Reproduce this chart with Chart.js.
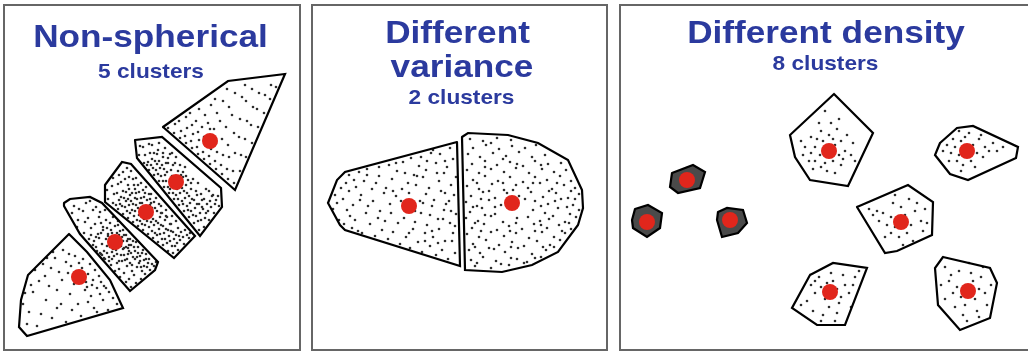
<!DOCTYPE html>
<html>
<head>
<meta charset="utf-8">
<script src="https://cdn.jsdelivr.net/npm/chart.js@4.4.1/dist/chart.umd.min.js"></script>
<style>
  html, body { margin: 0; padding: 0; background: #fff; }
  body { position: relative; width: 1028px; height: 351px; overflow: hidden; }
  canvas { position: absolute; top: 0; }
  .frame { position: absolute; top: 4px; height: 347px; box-sizing: border-box; border: 2px solid #666; z-index: 2; }
  .t { position: absolute; text-align: center; white-space: nowrap; color: #2b3a9e; z-index: 3;
       font-family: "Liberation Sans", Arial, sans-serif; font-weight: bold; }
  .big { font-size: 32px; line-height: 32px; transform: scaleX(1.1); }
  .small { font-size: 21px; line-height: 21px; transform: scaleX(1.08); }
</style>
</head>
<body>
<canvas id="nonSpherical" width="305" height="351" style="left:0"></canvas>
<canvas id="variance" width="310" height="351" style="left:305px"></canvas>
<canvas id="density" width="413" height="351" style="left:615px"></canvas>

<div class="frame" style="left:3px;width:298px"></div>
<div class="frame" style="left:311px;width:297px"></div>
<div class="frame" style="left:619px;width:420px"></div>

<div class="t big" style="left:0;width:301px;top:20px">Non-spherical</div>
<div class="t small" style="left:0;width:302px;top:60px">5 clusters</div>
<div class="t big" style="left:357px;width:201px;top:16px">Different</div>
<div class="t big" style="left:362px;width:200px;top:50px">variance</div>
<div class="t small" style="left:361px;width:201px;top:86px">2 clusters</div>
<div class="t big" style="left:676px;width:300px;top:16px">Different density</div>
<div class="t small" style="left:725px;width:201px;top:52px">8 clusters</div>

<script>
// ---- Non-spherical: 5 clusters along one long diagonal cloud ----
const nsCenters = [[79, 74], [115, 109], [146, 139], [176, 169], [210, 210]];
const nsHulls = [
  [[69,117],[87,99],[110,71],[123,43],[27,15],[19,24],[21,51],[28,76]],
  [[64,148],[70,152],[90,154],[102,148],[158,89],[155,81],[130,60],[80,117],[64,145]],
  [[105,166],[122,189],[131,187],[195,115],[174,93],[105,149]],
  [[135,211],[162,214],[221,163],[222,144],[200,115],[137,193]],
  [[163,224],[228,270],[285,277],[235,161]]
];
const nsPts1 = [[90,87],[83,92],[95,81],[79,88],[88,77],[99,75],[75,95],[82,83],[93,71],[101,69],[86,69],[71,85],[77,76],[104,65],[97,63],[109,59],[113,53],[69,97],[63,101],[66,89],[74,67],[59,79],[55,93],[51,83],[62,71],[85,61],[91,55],[103,51],[70,57],[57,61],[45,75],[43,87],[49,65],[39,70],[35,81],[33,59],[46,51],[61,47],[78,47],[94,43],[108,41],[117,47],[29,39],[41,37],[27,27],[52,33],[66,29],[37,25],[23,47],[81,35],[97,39],[57,43],[72,41],[88,49],[100,57],[106,63],[53,99],[47,93],[31,66],[25,58],[87,64],[80,71],[68,78],[92,66]];
const nsPts2 = [[72,138],[74,145],[78,131],[79,142],[77,124],[84,118],[85,129],[83,140],[86,148],[89,112],[91,123],[88,133],[93,141],[90,150],[96,104],[94,110],[98,117],[95,127],[99,134],[96,144],[100,98],[102,107],[99,113],[103,121],[101,128],[100,139],[105,92],[104,100],[107,105],[106,112],[108,117],[103,124],[106,131],[105,141],[111,86],[109,94],[112,99],[110,104],[113,110],[108,115],[111,121],[110,128],[113,134],[115,80],[117,88],[114,95],[116,101],[118,106],[114,113],[117,118],[115,125],[118,130],[120,74],[119,82],[122,90],[121,96],[123,102],[119,108],[122,114],[120,120],[118,126],[126,69],[124,78],[127,85],[125,91],[128,97],[124,103],[127,110],[126,116],[123,121],[131,64],[129,72],[132,80],[130,88],[133,94],[129,100],[131,106],[130,112],[136,68],[134,76],[137,84],[135,92],[138,98],[134,104],[136,109],[141,72],[142,80],[139,88],[140,95],[143,101],[145,77],[147,84],[144,91],[146,97],[150,81],[152,87],[149,92],[154,85],[156,89],
  [97,100],[101,97],[102,96],[104,93],[107,98],[109,90],[111,108],[113,102],[112,92],[116,110],[117,97],[119,90],[121,105],[123,110],[124,96],[126,104],[128,112],[127,92],[129,106],[131,98],[133,110],[132,86],[135,100],[137,94],[138,104],[140,90],[142,98],[144,85],[141,84],[146,92],[148,88],[93,106],[91,116],[96,114],[101,118],[107,123],[112,118],[119,116],[124,116],[128,103]];
const nsPts3 = [[108,152],[107,161],[113,148],[114,157],[112,165],[113,173],[118,142],[119,151],[117,158],[118,167],[119,176],[123,137],[122,145],[124,153],[123,160],[121,169],[123,179],[128,133],[127,140],[129,146],[128,152],[126,159],[128,166],[129,174],[127,183],[133,129],[134,135],[132,141],[133,147],[135,153],[132,158],[134,166],[133,172],[131,180],[138,125],[137,131],[139,136],[138,143],[140,148],[137,152],[139,159],[138,166],[136,173],[143,121],[142,127],[144,132],[142,148],[144,154],[143,161],[141,168],[148,117],[149,124],[147,130],[150,146],[147,151],[149,157],[146,164],[153,113],[152,120],[154,126],[153,132],[152,143],[154,149],[151,157],[158,109],[157,116],[159,122],[158,128],[160,134],[157,140],[159,147],[156,153],[163,106],[162,112],[164,118],[163,125],[165,131],[162,138],[161,145],[168,100],[167,108],[169,115],[168,121],[170,127],[167,134],[166,141],[173,98],[172,105],[174,112],[173,119],[171,127],[172,135],[178,101],[177,108],[179,115],[178,123],[176,130],[184,107],[183,114],[185,121],[189,113],[190,118],
  [116,146],[120,147],[121,154],[125,144],[126,150],[130,138],[131,150],[130,156],[135,140],[136,146],[136,158],[140,130],[141,138],[141,153],[145,126],[146,134],[151,129],[152,136],[151,148],[155,118],[156,130],[155,143],[160,117],[161,126],[161,138],[165,112],[166,122],[166,135],[170,110],[171,120],[175,105],[176,116],[180,111],[181,119],[187,116],[125,172],[129,162],[135,162],[145,158],[150,152]];
const nsPts4 = [[139,196],[140,205],[144,188],[145,196],[143,204],[149,181],[148,189],[150,198],[149,207],[154,176],[153,183],[155,190],[154,198],[152,206],[159,170],[158,177],[160,183],[159,190],[157,197],[159,208],[164,164],[163,170],[165,176],[164,182],[166,188],[163,194],[165,203],[169,158],[168,164],[171,181],[168,188],[170,197],[174,152],[173,158],[175,188],[172,198],[179,146],[178,152],[180,158],[181,176],[180,186],[184,140],[183,147],[185,153],[184,160],[186,166],[183,174],[185,184],[189,134],[188,141],[190,148],[189,155],[191,162],[188,171],[194,128],[193,136],[195,143],[194,151],[196,160],[193,172],[199,121],[198,130],[200,138],[199,147],[201,157],[198,168],[204,124],[205,133],[203,142],[204,152],[206,162],[209,131],[208,140],[210,150],[209,160],[214,138],[215,147],[213,156],[219,145],[218,155],
  [147,186],[151,186],[152,192],[156,181],[157,187],[161,175],[162,186],[166,170],[167,179],[170,162],[172,175],[173,186],[176,156],[177,162],[178,180],[182,150],[182,163],[183,179],[187,145],[187,158],[191,140],[192,152],[191,168],[196,135],[197,147],[197,156],[201,131],[202,144],[202,151],[206,138],[207,147],[211,144],[212,155],[216,151],[158,201],[163,198],[168,193],[176,194],[180,168],[186,175]];
const nsPts5 = [[168,223],[174,218],[175,227],[180,213],[181,220],[179,230],[186,208],[185,215],[187,223],[186,234],[192,203],[191,210],[193,217],[192,226],[190,238],[198,197],[197,204],[199,211],[198,219],[196,230],[199,242],[204,192],[203,199],[205,206],[204,214],[202,224],[205,236],[210,187],[209,195],[211,202],[210,222],[208,228],[211,246],[216,182],[215,190],[217,199],[216,208],[214,222],[217,238],[215,252],[222,177],[221,186],[223,196],[222,212],[220,230],[223,250],[228,172],[227,182],[229,194],[228,206],[226,224],[229,244],[227,262],[234,168],[233,180],[235,198],[234,218],[232,236],[235,258],[240,180],[241,196],[239,214],[240,232],[242,254],[246,194],[245,212],[247,230],[246,250],[245,266],[252,208],[251,226],[253,244],[252,262],[258,224],[257,242],[259,258],[264,238],[265,256],[270,252],[271,266],[276,264]];

// ---- Different variance: 2 clusters, wide one on the left ----
const dvCenters = [[104, 145], [207, 148]];
const dvHulls = [
  [[152,209],[40,179],[32,171],[23,148],[35,126],[40,121],[155,85]],
  [[157,214],[163,218],[203,216],[233,208],[263,191],[277,161],[278,143],[273,126],[253,99],[227,86],[197,79],[160,81]]
];
const dvPts1 = [[28,142],[30,156],[34,131],[32,148],[36,163],[39,127],[42,141],[38,152],[41,168],[44,176],[47,123],[45,135],[48,146],[44,160],[49,171],[53,120],[50,131],[55,151],[51,164],[54,179],[57,118],[61,138],[56,156],[59,170],[62,182],[65,127],[63,145],[67,162],[62,176],[70,115],[73,133],[68,150],[71,168],[74,184],[77,121],[75,140],[79,158],[74,175],[83,112],[80,130],[85,147],[81,163],[84,186],[88,119],[86,138],[91,155],[87,172],[91,188],[95,107],[93,128],[97,162],[92,180],[101,114],[99,133],[103,168],[98,189],[105,103],[108,122],[104,158],[109,176],[106,193],[113,109],[110,129],[115,150],[111,166],[114,185],[117,99],[120,118],[116,138],[121,157],[118,174],[116,194],[125,105],[122,126],[127,145],[124,163],[121,181],[126,198],[131,96],[128,114],[133,132],[129,151],[134,170],[131,188],[128,201],[137,101],[134,122],[139,141],[136,160],[139,178],[135,197],[143,92],[140,110],[145,128],[141,147],[146,166],[142,184],[145,203],[150,98],[148,118],[151,137],[149,156],[151,174],[148,192],
  [120,110],[127,120],[133,108],[138,132],[144,150],[147,110],[140,158],[125,136],[118,148],[132,178],[110,140],[104,118],[112,175],[96,150],[88,160],[140,190],[146,140],[150,125],[122,190],[100,178]];
const dvPts2 = [[170,85],[186,83],[204,86],[219,88],[166,91],[178,94],[191,90],[206,93],[222,89],[236,94],[164,101],[175,98],[189,102],[200,99],[213,103],[227,97],[241,101],[249,104],[168,107],[181,111],[194,106],[207,109],[219,105],[232,110],[245,106],[255,111],[162,117],[174,114],[186,119],[199,115],[211,118],[224,113],[237,119],[249,114],[260,118],[167,123],[179,127],[192,121],[204,125],[217,122],[229,127],[242,123],[254,126],[266,122],[161,133],[173,130],[186,135],[198,129],[223,134],[235,130],[248,135],[260,129],[271,134],[165,139],[177,143],[190,137],[228,141],[240,138],[253,143],[265,137],[274,141],[161,149],[172,145],[184,151],[196,146],[230,150],[243,147],[256,152],[268,146],[166,155],[178,159],[190,153],[202,158],[214,155],[226,159],[238,154],[251,158],[263,153],[274,157],[162,165],[174,162],[187,167],[199,161],[211,166],[223,163],[235,168],[247,162],[259,166],[270,163],[168,171],[180,175],[193,170],[205,174],[218,169],[230,174],[242,171],[255,175],[266,170],[162,181],[174,178],[186,182],[199,179],[211,183],[224,178],[237,182],[249,179],[261,181],[167,187],[180,190],[192,186],[205,189],[218,185],[230,190],[243,187],[256,188],[163,197],[175,194],[188,198],[201,195],[214,199],[227,194],[240,196],[168,203],[181,206],[194,202],[207,205],[220,203],[231,206],[165,212],[178,210],[192,213],[206,211],
  [172,88],[196,87],[212,92],[230,93],[170,104],[184,103],[206,104],[238,104],[176,120],[205,120],[230,120],[257,120],[170,128],[211,128],[236,126],[264,128],[180,136],[212,133],[244,132],[168,144],[190,144],[236,145],[262,144],[176,152],[220,152],[250,150],[270,152],[184,160],[208,161],[244,160],[266,160],[172,168],[198,168],[228,168],[252,168],[180,184],[212,187],[236,186],[198,192],[186,208]];

// ---- Different density: 8 clusters, three of them very tight ----
const ddCenters = [[214,200],[352,200],[72,171],[32,129],[115,131],[286,129],[215,59],[353,60]];
const ddHulls = [
  [[219,257],[258,218],[233,165],[195,171],[180,194],[175,216]],
  [[325,208],[342,223],[358,225],[403,204],[401,193],[353,171],[335,177],[320,196]],
  [[57,178],[78,186],[90,179],[85,163],[63,158],[55,164]],
  [[20,142],[33,146],[47,138],[45,123],[32,114],[18,123],[17,131]],
  [[103,139],[112,143],[128,141],[132,128],[123,118],[107,114],[102,131]],
  [[242,144],[293,166],[318,149],[317,116],[282,100],[270,98]],
  [[195,76],[218,88],[252,83],[230,26],[202,26],[177,43]],
  [[328,94],[375,83],[382,68],[375,33],[345,21],[323,46],[320,83]]
];
const ddTight = [2, 3, 4];
const ddPtsA = [[200,204],[205,196],[208,210],[220,206],[224,196],[218,190],[210,188],[196,198],[202,212],[226,210],[230,200],[214,216],[206,220],[222,222],[190,204],[194,190],[212,180],[226,186],[236,196],[238,208],[198,182],[216,228],[204,228],[232,216],[188,196],[220,178],[206,184],[228,192],[218,212],[200,190],[224,232],[186,210],[240,190],[196,214],[210,240]];
const ddPtsB = [[340,204],[346,210],[344,196],[358,206],[362,198],[356,190],[348,186],[336,198],[332,206],[350,214],[364,212],[370,204],[368,194],[342,190],[354,218],[338,212],[374,200],[360,184],[328,200],[346,180],[378,208],[366,216],[344,220],[334,190],[382,200],[388,204]];
const ddPtsC = [[63,170],[65,177],[71,181],[78,179],[81,173],[81,166],[76,162],[68,162],[64,165],[60,174],[84,170],[72,183]];
const ddPtsD = [[23,130],[25,137],[31,139],[38,137],[41,131],[40,124],[35,120],[27,121],[22,125],[30,141],[42,128],[21,134]];
const ddPtsE = [[106,131],[108,137],[114,140],[121,139],[124,133],[124,126],[119,122],[111,121],[107,125],[126,130],[116,119],[110,140]];
const ddPtsF = [[276,134],[280,124],[290,136],[296,126],[292,118],[284,114],[272,126],[268,138],[300,140],[306,130],[298,110],[286,144],[278,148],[262,140],[264,130],[308,120],[310,142],[294,152],[280,156],[270,114],[288,106],[254,142],[302,148],[276,118],[312,128],[258,136]];
const ddPtsG = [[206,64],[210,52],[222,62],[226,54],[218,70],[200,58],[196,66],[214,44],[230,66],[234,58],[204,74],[216,78],[228,76],[240,74],[236,44],[222,38],[208,36],[192,50],[186,46],[198,40],[224,48],[212,68],[244,80],[238,66],[220,30],[206,30],[200,70]];
const ddPtsH = [[342,64],[346,54],[358,70],[364,62],[360,52],[350,46],[338,58],[334,70],[366,74],[370,58],[356,78],[344,80],[330,84],[354,88],[368,84],[376,66],[372,46],[362,40],[348,36],[340,44],[330,52],[326,66],[336,76],[352,30],[364,34]];

const toXY = pairs => pairs.map(([x, y]) => ({ x, y }));

function drawPanel(id, hulls, clouds, centers, tight = []) {
  const canvas = document.getElementById(id);
  const datasets = [];
  clouds.forEach(c => datasets.push({
    data: toXY(c), pointRadius: 1.3, backgroundColor: '#2e2e2e', borderWidth: 0, order: 3
  }));
  hulls.forEach((h, i) => datasets.push({
    data: toXY([...h, h[0]]), showLine: true, pointRadius: 0,
    borderColor: '#000', borderWidth: 2.2, borderCapStyle: 'round',
    fill: tight.includes(i) ? 'shape' : false, backgroundColor: '#4a4a4a', order: 2
  }));
  datasets.push({
    data: toXY(centers), pointRadius: 8, backgroundColor: '#e1261c', borderWidth: 0, order: 0
  });

  new Chart(canvas, {
    type: 'scatter',
    data: { datasets },
    options: {
      animation: false,
      responsive: false,
      events: [],
      layout: { padding: 0, autoPadding: false },
      plugins: { legend: { display: false }, tooltip: { enabled: false } },
      scales: {
        x: { type: 'linear', min: 0, max: canvas.width, display: false },
        y: { type: 'linear', min: 0, max: canvas.height, display: false }
      }
    }
  });
}

drawPanel('nonSpherical', nsHulls, [nsPts1, nsPts2, nsPts3, nsPts4, nsPts5], nsCenters);
drawPanel('variance', dvHulls, [dvPts1, dvPts2], dvCenters);
drawPanel('density', ddHulls, [ddPtsA, ddPtsB, ddPtsC, ddPtsD, ddPtsE, ddPtsF, ddPtsG, ddPtsH], ddCenters, ddTight);
</script>
</body>
</html>
